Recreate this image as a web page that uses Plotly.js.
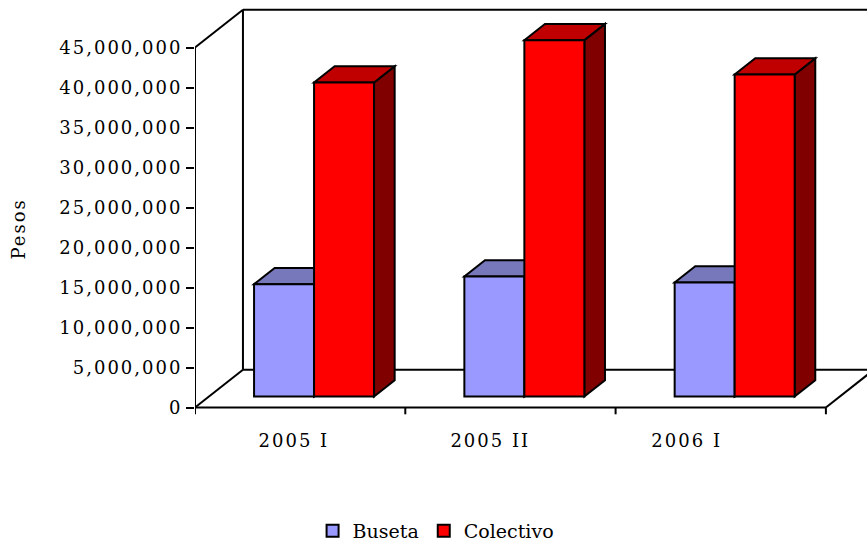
<!DOCTYPE html>
<html>
<head>
<meta charset="utf-8">
<script src="https://cdn.plot.ly/plotly-3.0.1.min.js"></script>
<style>
  html, body { margin: 0; padding: 0; background: #fff; }
  #chart { width: 867px; height: 546px; }
  .xtick text, .ytick text, .annotation-text { letter-spacing: 2px; }
</style>
</head>
<body>
<div id="chart"></div>
<script>
// ---- data ----
const categories = ['2005 I', '2005 II', '2006 I'];
const seriesNames = ['Buseta', 'Colectivo'];
const busetaValues = [14050000, 15000000, 14250000];
const colectivoValues = [39250000, 44550000, 40250000];
const yTickValues = [0, 5000000, 10000000, 15000000, 20000000, 25000000, 30000000, 35000000, 40000000, 45000000];
const yAxisTitle = 'Pesos';

// ---- style / geometry (pseudo-3D) ----
const frontColors = ['#9999ff', '#ff0000'];
const topColors = ['#7777bb', '#c00000'];
const sideColors = ['#4c4c7f', '#800000'];
const yMaxWall = 45000000;
const depthX = 0.228;      // full floor depth, category units
const depthY = 4720000;    // full floor depth, value units
const f0 = 0.29, f1 = 0.72; // bar front / back depth fractions
const barW = 0.2853;
const seriesOffsets = [-barW, 0];
const lineW = 2;
const nCat = categories.length;

const catIdx = categories.map((_, i) => i);
const allValues = [busetaValues, colectivoValues];

const shapes = [];
function seg(x0, y0, x1, y1) {
  shapes.push({type: 'line', xref: 'x', yref: 'y', x0, y0, x1, y1, layer: 'below',
    line: {color: '#000', width: lineW}});
}
function poly(pts, fill) {
  const d = pts.map((p, k) => (k ? 'L' : 'M') + p[0] + ',' + p[1]).join(' ') + ' Z';
  shapes.push({type: 'path', xref: 'x', yref: 'y', path: d, layer: 'below',
    fillcolor: fill, line: {color: '#000', width: lineW}});
}

const xL = -0.5, xR = nCat - 0.5;
// walls and floor
seg(xL, 0, xL, yMaxWall);
seg(xL, yMaxWall, xL + depthX, yMaxWall + depthY);
seg(xL, 0, xL + depthX, depthY);
seg(xL + depthX, depthY, xL + depthX, yMaxWall + depthY);
seg(xL + depthX, yMaxWall + depthY, xR + depthX, yMaxWall + depthY);
seg(xL + depthX, depthY, xR + depthX, depthY);
seg(xR + depthX, depthY, xR + depthX, yMaxWall + depthY);
seg(xL, 0, xR, 0);
seg(xR, 0, xR + depthX, depthY);
// category tick marks
for (let k = 0; k <= nCat; k++) {
  seg(xL + k, 0, xL + k, -850000);
}

// bar top and side faces (front faces are bar traces)
const base = f0 * depthY;
allValues.forEach((vals, s) => {
  vals.forEach((v, i) => {
    const xl = i + seriesOffsets[s];
    const xr = xl + barW;
    poly([[xr + f0 * depthX, f0 * depthY], [xr + f1 * depthX, f1 * depthY],
          [xr + f1 * depthX, f1 * depthY + v], [xr + f0 * depthX, f0 * depthY + v]], sideColors[s]);
    poly([[xl + f0 * depthX, f0 * depthY + v], [xr + f0 * depthX, f0 * depthY + v],
          [xr + f1 * depthX, f1 * depthY + v], [xl + f1 * depthX, f1 * depthY + v]], topColors[s]);
  });
});

const traces = allValues.map((vals, s) => ({
  type: 'bar',
  name: seriesNames[s],
  x: catIdx,
  y: vals,
  base: base,
  width: barW,
  offset: seriesOffsets[s] + f0 * depthX,
  marker: {color: frontColors[s], line: {color: '#000', width: lineW}},
  hoverinfo: 'skip'
}));

const fontFam = '"DejaVu Serif", serif';
const plotTop = 5, plotBottom = 416, zeroPx = 407.5;
const plotLeft = 195, plotRight = 867, catPx = 210.3;

const layout = {
  width: 867, height: 546,
  margin: {l: plotLeft, r: 867 - plotRight, t: plotTop, b: 546 - plotBottom, pad: 0, autoexpand: false},
  paper_bgcolor: '#fff', plot_bgcolor: '#fff',
  showlegend: true,
  barmode: 'overlay',
  font: {family: fontFam, size: 18, color: '#000'},
  xaxis: {
    range: [xL, xL + (plotRight - plotLeft) / catPx],
    showgrid: false, zeroline: false, showline: false,
    tickvals: catIdx.map(i => i * 0.934 - 0.03),
    ticktext: categories,
    ticks: '', ticklabelstandoff: 12,
    tickfont: {family: fontFam, size: 18, color: '#000'},
    fixedrange: true
  },
  yaxis: {
    range: [-(plotBottom - zeroPx) / 8 * 1e6, (zeroPx - plotTop) / 8 * 1e6],
    showgrid: false, zeroline: false, showline: false,
    tickvals: yTickValues, tickformat: ',.0f',
    ticks: 'outside', ticklen: 8, tickwidth: 2, tickcolor: '#000',
    tickfont: {family: fontFam, size: 18, color: '#000'},
    fixedrange: true
  },
  legend: {
    orientation: 'h', x: 0.358, xanchor: 'center',
    y: -(531 - plotBottom) / (plotBottom - plotTop), yanchor: 'middle',
    font: {family: fontFam, size: 19, color: '#000'},
    bgcolor: 'rgba(0,0,0,0)', traceorder: 'normal'
  },
  annotations: [{
    text: yAxisTitle, xref: 'paper', yref: 'paper',
    x: (18 - plotLeft) / (plotRight - plotLeft), y: (plotBottom - 229.5) / (plotBottom - plotTop),
    xanchor: 'center', yanchor: 'middle', textangle: -90, showarrow: false,
    font: {family: fontFam, size: 18, color: '#000'}
  }],
  shapes: shapes
};

Plotly.newPlot('chart', traces, layout, {displayModeBar: false, staticPlot: true});
</script>
</body>
</html>
